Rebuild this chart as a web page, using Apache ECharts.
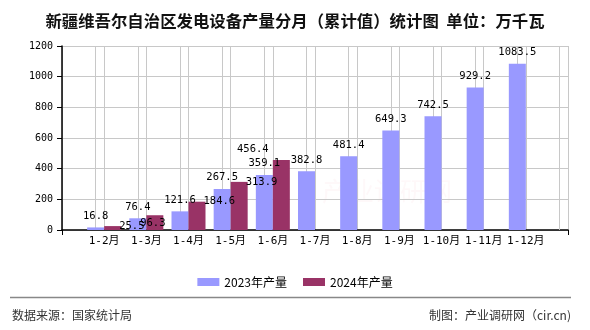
<!DOCTYPE html>
<html>
<head>
<meta charset="utf-8">
<script src="https://cdn.jsdelivr.net/npm/echarts@6/dist/echarts.min.js"></script>
<style>
html,body{margin:0;padding:0;background:#fff;}
#main{width:590px;height:330px;}
</style>
</head>
<body>
<div id="main"></div>
<script>
var categories = ['', '1-2月', '1-3月', '1-4月', '1-5月', '1-6月', '1-7月', '1-8月', '1-9月', '1-10月', '1-11月', '1-12月', ''];
var values2023 = [null, 16.8, 76.4, 121.6, 267.5, 359.1, 382.8, 481.4, 649.3, 742.5, 929.2, 1083.5, null];
var values2024 = [null, 25.5, 96.3, 184.6, 313.9, 456.4, null, null, null, null, null, null, null];
var seriesNames = ['2023年产量', '2024年产量'];
var yTicks = [0, 200, 400, 600, 800, 1000, 1200];

var monoFont = '"DejaVu Sans Mono", "Liberation Mono", "Noto Sans CJK SC", monospace';
var cjkFont = '"Noto Sans CJK SC", "Liberation Sans", sans-serif';

var chart = echarts.init(document.getElementById('main'));

var data2024 = values2024.map(function (v, i) {
  if (v === null) return v;
  var item = {value: v};
  if (i === 2) {
    item.label = {position: 'insideTop', align: 'center', verticalAlign: 'top', distance: 3};
  }
  if (i === 5) {
    item.label = {position: [-18, -11], align: 'center', verticalAlign: 'middle'};
  }
  return item;
});

var nSlots = categories.length - 1;
var gridMarks = [];
for (var k = 1; k <= nSlots; k++) { gridMarks.push({xAxis: k}); }

chart.setOption({
  animation: false,
  title: {
    text: '新疆维吾尔自治区发电设备产量分月（累计值）统计图  单位：万千瓦',
    left: 'center',
    top: 8,
    textStyle: {fontFamily: cjkFont, fontSize: 16.4, fontWeight: 'bold', color: '#111'}
  },
  legend: {
    data: seriesNames,
    left: 'center',
    top: 271,
    itemWidth: 22,
    itemHeight: 8,
    itemGap: 16,
    icon: 'rect',
    textStyle: {fontFamily: cjkFont, fontSize: 12, color: '#000'}
  },
  grid: {left: 62, right: 22, top: 46, bottom: 100},
  xAxis: [
    {
      type: 'category',
      data: categories,
      boundaryGap: false,
      axisLine: {lineStyle: {color: '#000', width: 1.5}},
      axisTick: {show: false},
      axisLabel: {interval: 0, margin: 6, fontFamily: monoFont, fontSize: 11, color: '#000'},
      splitLine: {show: true, interval: 0, lineStyle: {color: '#c8c8c8', width: 1}}
    },
    {
      type: 'value',
      position: 'bottom',
      min: 0,
      max: 1,
      interval: 1,
      axisLine: {show: true, lineStyle: {color: 'rgba(0,0,0,0)'}},
      axisTick: {show: true, length: 5, lineStyle: {color: '#000', width: 1}},
      axisLabel: {show: true, color: 'rgba(0,0,0,0)', fontSize: 1},
      splitLine: {show: false}
    }
  ],
  yAxis: {
    type: 'value',
    min: yTicks[0],
    max: yTicks[yTicks.length - 1],
    interval: yTicks[1] - yTicks[0],
    axisLine: {show: true, lineStyle: {color: '#000', width: 1.5}},
    axisTick: {show: true, length: 5, lineStyle: {color: '#000'}},
    axisLabel: {margin: 9, fontFamily: monoFont, fontSize: 10, color: '#000', formatter: function (v) { return String(v); }},
    splitLine: {show: true, lineStyle: {color: '#c8c8c8', width: 1}}
  },
  series: [
    {
      name: seriesNames[0],
      type: 'bar',
      xAxisIndex: 0,
      data: values2023,
      barWidth: 17,
      barGap: '0%',
      z: 3,
      itemStyle: {color: '#9999FF'},
      label: {show: true, position: 'top', distance: 6, fontFamily: monoFont, fontSize: 10.5, color: '#000'},
      markLine: {
        silent: true,
        z: 1,
        symbol: ['none', 'none'],
        label: {show: false},
        lineStyle: {color: '#c8c8c8', width: 1, type: 'solid'},
        data: gridMarks
      }
    },
    {
      name: seriesNames[1],
      type: 'bar',
      xAxisIndex: 0,
      data: data2024,
      barWidth: 17,
      barGap: '0%',
      z: 3,
      itemStyle: {color: '#993366'},
      label: {show: true, position: ['100%', 0], offset: [-2, 0], align: 'left', verticalAlign: 'middle', fontFamily: monoFont, fontSize: 10.5, color: '#000'}
    }
  ],
  graphic: [
    {type: 'text', left: 322, top: 178, silent: true, style: {text: '产业调研网', fontFamily: cjkFont, fontSize: 26, fill: 'rgba(220,60,90,0.035)'}},
    {type: 'line', shape: {x1: 10, y1: 297.5, x2: 571, y2: 297.5}, style: {stroke: '#888', lineWidth: 1.5}},
    {type: 'text', left: 12, top: 309, style: {text: '数据来源：国家统计局', fontFamily: cjkFont, fontSize: 12, fill: '#333'}},
    {type: 'text', right: 19, top: 309, style: {text: '制图：产业调研网（cir.cn)', fontFamily: cjkFont, fontSize: 12, fill: '#333'}}
  ]
});
</script>
</body>
</html>
